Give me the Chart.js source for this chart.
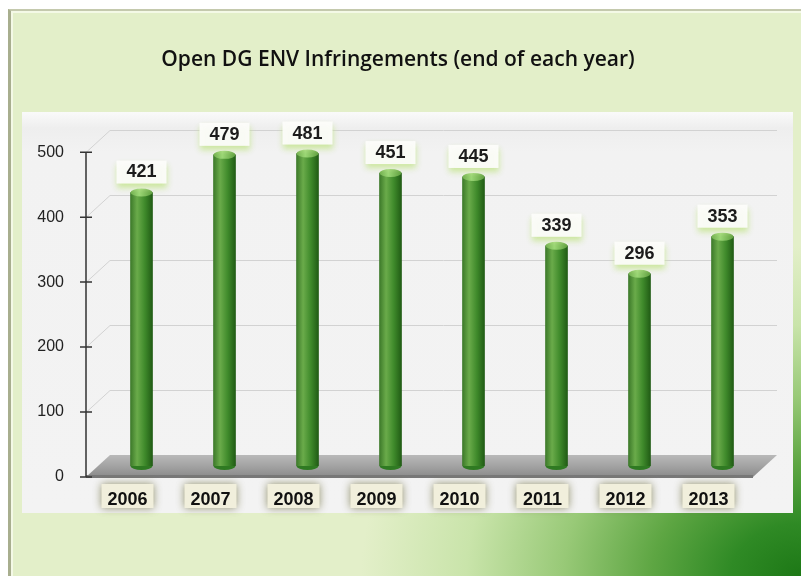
<!DOCTYPE html>
<html>
<head>
<meta charset="utf-8">
<script src="https://cdn.jsdelivr.net/npm/chart.js@4/dist/chart.umd.min.js"></script>
<style>
  body { margin: 0; width: 801px; height: 576px; background: #fff; position: relative; overflow: hidden; }
  .frame { position: absolute; left: 8px; top: 9px; width: 793px; height: 567px;
    background: radial-gradient(ellipse 440px 330px at 100% 100%, #1d7816 0%, #2f8a25 16%, #5ea643 34%, #98c977 54%, #c9e4aa 76%, rgba(227,239,201,0) 100%), #e3efc9;
    border-left: 3px solid #a8ae8e; border-top: 2px solid #c4c9ad; box-sizing: border-box;
    box-shadow: inset 2px 2px 0 #f4f9e6; }
  .panel { position: absolute; left: 22px; top: 112px; width: 771px; height: 401px;
    background: linear-gradient(#fafafa 0, #eeeeee 16px, #f2f2f2 40px, #f3f3f3 100%); }
  canvas { position: absolute; left: 0; top: 0; }
</style>
</head>
<body>
<div class="frame"></div>
<div class="panel"></div>
<canvas id="chart" width="801" height="576"></canvas>
<script>
const years = ["2006", "2007", "2008", "2009", "2010", "2011", "2012", "2013"];
const infringements = [421, 479, 481, 451, 445, 339, 296, 353];
const yTicks = [0, 100, 200, 300, 400, 500];

// depth of the fake 3d: back plane is shifted by (dx, -dy) from the front
const depthX = 24, depthY = 22;

const scene3d = {
  id: "scene3d",
  beforeDraw(chart) {
    const ctx = chart.ctx;
    const x = chart.scales.x, y = chart.scales.y;
    const area = chart.chartArea;
    const front = v => y.getPixelForValue(v) + depthY / 2;
    const axisX = area.left - 14;
    const floorRight = area.right + 14 - 25;
    ctx.save();

    // back gridlines + diagonal connectors
    ctx.strokeStyle = "#d2d2d2";
    ctx.lineWidth = 1;
    yTicks.forEach(v => {
      if (v === 0) return;
      const fy = Math.round(front(v)) + 0.5;
      ctx.beginPath();
      ctx.moveTo(axisX, fy);
      ctx.lineTo(axisX + depthX, fy - depthY);
      ctx.lineTo(floorRight + depthX, fy - depthY);
      ctx.stroke();
    });

    // floor
    const f0 = front(0);
    ctx.beginPath();
    ctx.moveTo(axisX, f0);
    ctx.lineTo(axisX + depthX, f0 - depthY);
    ctx.lineTo(floorRight + depthX, f0 - depthY);
    ctx.lineTo(floorRight, f0);
    ctx.closePath();
    const fg = ctx.createLinearGradient(0, f0 - depthY, 0, f0);
    fg.addColorStop(0, "#b9b9b9");
    fg.addColorStop(0.5, "#a3a3a3");
    fg.addColorStop(1, "#8a8a8a");
    ctx.fillStyle = fg;
    ctx.fill();
    ctx.fillStyle = "#777";
    ctx.fillRect(axisX, f0 - 2, floorRight - axisX, 3);

    // axis line and ticks
    ctx.strokeStyle = "#333";
    ctx.lineWidth = 1.5;
    ctx.beginPath();
    ctx.moveTo(axisX, front(500));
    ctx.lineTo(axisX, f0);
    yTicks.forEach(v => {
      ctx.moveTo(axisX - 6, front(v));
      ctx.lineTo(axisX + 6, front(v));
    });
    ctx.stroke();

    // label boxes under the year ticks
    years.forEach((yr, i) => {
      const cx = x.getPixelForValue(i) - 14;
      ctx.shadowColor = "rgba(110,110,60,0.75)";
      ctx.shadowBlur = 8;
      ctx.fillStyle = "#f1efdc";
      ctx.fillRect(cx - 26, 484, 52, 24);
    });
    ctx.restore();
  },
  afterDatasetsDraw(chart) {
    const ctx = chart.ctx;
    const meta = chart.getDatasetMeta(0);
    ctx.save();
    meta.data.forEach((bar, i) => {
      const w = 22;
      // cylinder cap
      const cap = ctx.createLinearGradient(bar.x - w / 2, 0, bar.x + w / 2, 0);
      cap.addColorStop(0, "#6fae4c");
      cap.addColorStop(0.4, "#9ad674");
      cap.addColorStop(1, "#5c9d3c");
      ctx.fillStyle = cap;
      ctx.beginPath();
      ctx.ellipse(bar.x, bar.y, w / 2, 4, 0, 0, Math.PI * 2);
      ctx.fill();
      // rounded foot
      ctx.fillStyle = "#2f7a22";
      ctx.beginPath();
      ctx.ellipse(bar.x, bar.base, w / 2, 4, 0, 0, Math.PI);
      ctx.fill();

      // value label
      const ty = bar.y - 20;
      ctx.shadowColor = "rgba(200,230,150,0.95)";
      ctx.shadowBlur = 6;
      ctx.shadowOffsetY = 4;
      ctx.fillStyle = "rgba(252,252,250,0.95)";
      ctx.fillRect(bar.x - 25, ty - 12, 50, 23);
      ctx.shadowColor = "transparent";
      ctx.shadowBlur = 0;
      ctx.shadowOffsetY = 0;
      ctx.fillStyle = "#1c1c1c";
      ctx.font = "bold 18px 'Liberation Sans', Arial, sans-serif";
      ctx.textAlign = "center";
      ctx.textBaseline = "middle";
      ctx.fillText(String(infringements[i]), bar.x, ty);
    });
    ctx.restore();
  }
};

new Chart(document.getElementById("chart"), {
  type: "bar",
  data: {
    labels: years,
    datasets: [{
      label: "Open infringements",
      data: infringements,
      barThickness: 22,
      backgroundColor: c => {
        const chart = c.chart;
        if (!chart.chartArea) return "#4f9a35";
        const cx = chart.scales.x.getPixelForValue(c.dataIndex);
        const g = chart.ctx.createLinearGradient(cx - 11, 0, cx + 11, 0);
        g.addColorStop(0, "#3d7a2a");
        g.addColorStop(0.3, "#6aab4a");
        g.addColorStop(0.65, "#3f8a2b");
        g.addColorStop(1, "#215c15");
        return g;
      }
    }]
  },
  options: {
    responsive: false,
    animation: false,
    layout: { padding: { left: 32, right: 37, top: 0, bottom: 0 } },
    plugins: {
      legend: { display: false },
      tooltip: { enabled: false },
      title: {
        display: true,
        text: "Open DG ENV Infringements (end of each year)",
        color: "#111",
        font: { family: "'Open Sans', sans-serif", size: 21, weight: "600" },
        padding: { top: 47, bottom: 69 }
      }
    },
    scales: {
      x: {
        grid: { display: false },
        border: { display: false },
        afterFit: s => { s.height = 110; },
        ticks: {
          labelOffset: -14,
          padding: 15,
          color: "#111",
          font: { family: "'Liberation Sans', Arial, sans-serif", size: 18, weight: "bold" }
        }
      },
      y: {
        min: 0,
        max: 500,
        grid: { display: false },
        border: { display: false },
        afterFit: s => { s.width = 68; },
        ticks: {
          stepSize: 100,
          labelOffset: 11,
          padding: 28,
          color: "#222",
          font: { family: "'Liberation Sans', Arial, sans-serif", size: 16 }
        }
      }
    }
  },
  plugins: [scene3d]
});
</script>
</body>
</html>
